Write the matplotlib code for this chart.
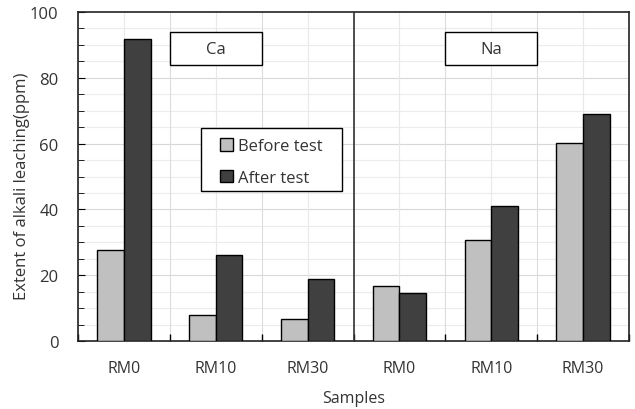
import numpy as np
import matplotlib.pyplot as plt
from matplotlib.ticker import MultipleLocator

plt.rcParams['font.family'] = ['Open Sans', 'DejaVu Sans']

samples = ["RM0", "RM10", "RM30", "RM0", "RM10", "RM30"]
before_test = [27.7, 8.0, 6.6, 16.8, 30.8, 60.2]
after_test = [91.8, 26.0, 18.8, 14.5, 40.9, 69.0]
groups = ["Ca", "Na"]

fig = plt.figure(figsize=(6.35, 4.10), dpi=100)
ax = fig.add_axes([78 / 635, 1 - 342 / 410, 551 / 635, 329 / 410])

x = np.arange(len(samples))
w = 0.29
ax.bar(x - w / 2, before_test, width=w, color="#c0c0c0", edgecolor="black",
       linewidth=1, label="Before test", zorder=3)
ax.bar(x + w / 2, after_test, width=w, color="#404040", edgecolor="black",
       linewidth=1, label="After test", zorder=3)

ax.set_xlim(-0.5, len(samples) - 0.5)
ax.set_ylim(0, 100)
ax.yaxis.set_major_locator(MultipleLocator(20))
ax.yaxis.set_minor_locator(MultipleLocator(5))
ax.set_xticks(x)
ax.set_xticklabels(samples, fontsize=11.5, color="#333333")
ax.set_xticks(np.arange(-0.5, len(samples), 1.0), minor=True)
ax.tick_params(axis="x", which="major", length=0, pad=14)
ax.tick_params(axis="x", which="minor", direction="in", length=5, width=1)
ax.tick_params(axis="y", which="major", direction="in", length=5, labelsize=12,
               labelcolor="#333333", pad=14)
ax.tick_params(axis="y", which="minor", direction="in", length=4)

# gridlines
for yv in np.arange(5, 100, 5):
    ax.axhline(yv, color="#ececec" if yv % 20 else "#d8d8d8", lw=0.8, zorder=0)
for xv in np.arange(-0.5, len(samples), 0.5):
    ax.axvline(xv, color="#e8e8e8" if (xv * 2) % 2 == 0 else "#dcdcdc", lw=0.8, zorder=0)
ax.axvline(2.5, color="#333333", lw=1.2, zorder=4)

for s in ax.spines.values():
    s.set_linewidth(1.2)
    s.set_color("#222222")

for i, g in enumerate(groups):
    ax.add_patch(plt.Rectangle((0.5 + 3 * i, 83.9), 1.0, 10, fc="white", ec="black",
                               lw=1, zorder=4))
    ax.text(1 + 3 * i, 88.9, g, ha="center", va="center", fontsize=12, color="#333333",
            zorder=5)

# legend frame drawn by hand so it can be wider than its contents
ax.add_patch(plt.Rectangle((0.2232, 0.456), 0.256, 0.191, transform=ax.transAxes,
                           fc="white", ec="black", lw=1, zorder=5))
leg = ax.legend(loc="upper left", bbox_to_anchor=((220 - 78) / 551, (342 - 139) / 329),
                fontsize=12, frameon=False, handlelength=0.78, handleheight=0.78,
                handletextpad=0.3, borderpad=0, labelspacing=0.95, borderaxespad=0)
leg.set_zorder(6)
for t in leg.get_texts():
    t.set_color("#333333")

ax.set_ylabel("Extent of alkali leaching(ppm)", fontsize=12, color="#333333")
ax.yaxis.set_label_coords((30 - 78) / 551, (342 - 186) / 329)
ax.set_xlabel("Samples", fontsize=11.5, color="#333333", labelpad=10)

fig.savefig("out.png", dpi=100)
